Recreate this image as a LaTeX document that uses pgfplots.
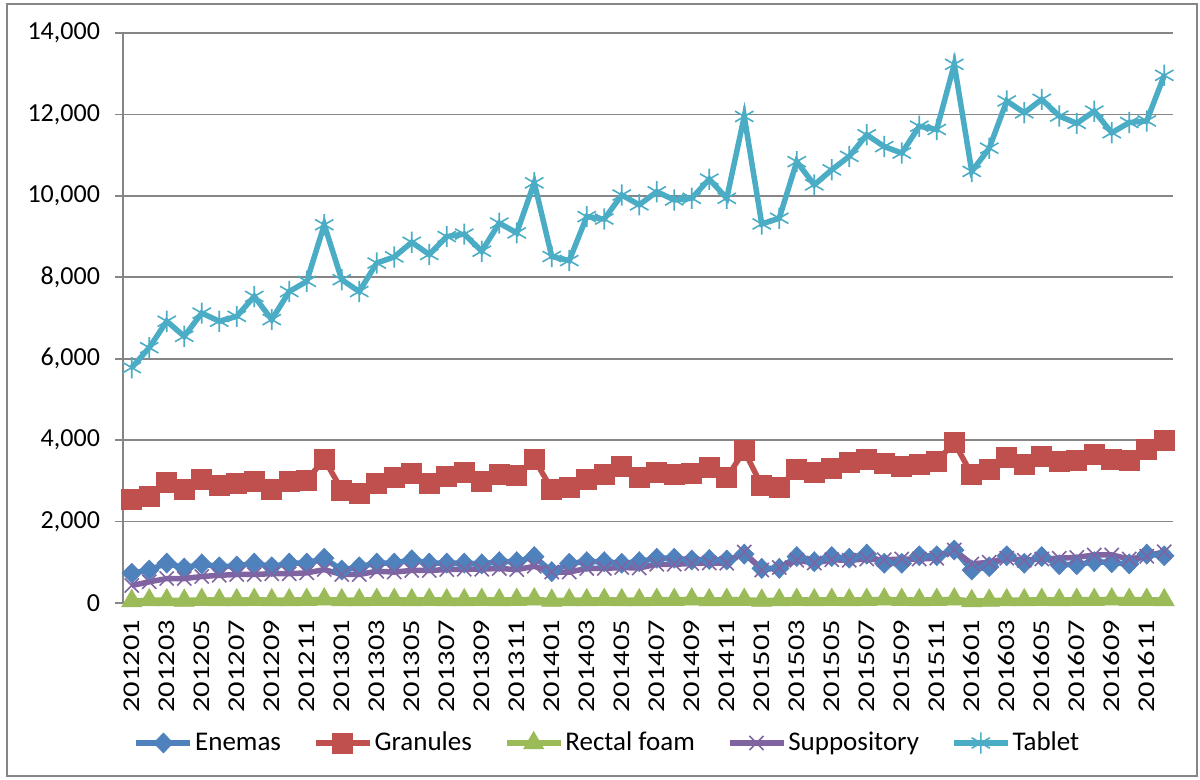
\documentclass[border=0pt]{standalone}
\usepackage{pgfplots}
\pgfplotsset{compat=1.18}
\usepackage{pgfplotstable}
\usepackage{fontspec}
\setmainfont{Carlito}
\definecolor{cE}{HTML}{4F81BD}
\definecolor{cG}{HTML}{C0504D}
\definecolor{cR}{HTML}{9BBB59}
\definecolor{cS}{HTML}{8064A2}
\definecolor{cT}{HTML}{4BACC6}
\definecolor{gridgray}{HTML}{868686}
\newcommand{\XL}[1]{\scalebox{1.27}[1]{#1}}
\pgfplotstableread{
i E G R S T
0 730 2550 50 430 5780
1 810 2630 70 520 6270
2 980 2960 70 600 6920
3 860 2800 60 600 6550
4 960 3050 80 650 7120
5 890 2880 70 680 6920
6 910 2940 70 700 7040
7 980 3000 80 700 7530
8 890 2800 70 720 6960
9 980 3000 70 720 7650
10 980 3020 80 740 7900
11 1100 3530 90 820 9290
12 810 2780 70 700 7940
13 890 2700 70 700 7650
14 980 2930 80 780 8350
15 980 3080 80 760 8500
16 1060 3190 70 800 8860
17 980 2930 80 800 8560
18 980 3120 70 820 9000
19 980 3200 70 830 9060
20 960 3000 80 830 8640
21 1015 3170 70 850 9330
22 1015 3130 80 820 9090
23 1140 3530 90 900 10320
24 770 2800 60 760 8510
25 975 2840 70 760 8410
26 1015 3050 70 850 9490
27 1015 3150 80 850 9430
28 975 3350 70 870 10020
29 1015 3080 70 860 9780
30 1100 3200 80 950 10100
31 1100 3150 80 950 9900
32 1057 3190 90 970 9940
33 1070 3340 70 980 10410
34 1057 3080 80 975 9940
35 1200 3740 80 1250 11950
36 850 2880 60 810 9310
37 850 2840 70 870 9450
38 1140 3290 80 1050 10840
39 1015 3200 70 980 10270
40 1140 3310 80 1060 10640
41 1100 3450 70 1050 10970
42 1200 3530 80 1080 11500
43 975 3430 90 1060 11210
44 975 3350 80 1080 11050
45 1160 3410 70 1080 11710
46 1160 3470 80 1100 11630
47 1300 3950 90 1300 13230
48 810 3150 50 960 10600
49 890 3290 60 1000 11170
50 1160 3570 70 1100 12330
51 975 3410 70 1050 12040
52 1140 3610 80 1080 12370
53 940 3470 70 1100 11960
54 940 3510 80 1120 11780
55 1015 3640 80 1180 12080
56 990 3530 90 1180 11550
57 960 3510 80 1080 11800
58 1200 3780 80 1150 11840
59 1160 3990 70 1260 12960
}\data
\begin{document}
\begin{tikzpicture}
\useasboundingbox (0pt,0pt) rectangle (600pt,390pt);
\draw[gridgray,line width=0.8pt] (3.5pt,2pt) rectangle (598.5pt,388pt);
\begin{axis}[
  at={(61.5pt,88.5pt)}, anchor=south west,
  width=525pt, height=285pt, scale only axis,
  xmin=-0.5, xmax=59.5, ymin=0, ymax=14000,
  axis lines*=left,
  axis line style={gridgray,line width=0.8pt},
  ytick={0,2000,...,14000},
  ymajorgrids, grid style={gridgray,line width=0.8pt},
  /pgf/number format/1000 sep={,},
  /pgf/number format/assume math mode=true,
  yticklabel style={font=\fontsize{13}{15}\selectfont, xshift=-4pt},
  scaled y ticks=false,
  ytick style={gridgray,line width=0.8pt},
  tick align=outside, major tick length=4pt,
  xtick={0,2,...,58},
  xticklabels={\XL{201201},\XL{201203},\XL{201205},\XL{201207},\XL{201209},\XL{201211},\XL{201301},\XL{201303},\XL{201305},\XL{201307},\XL{201309},\XL{201311},\XL{201401},\XL{201403},\XL{201405},\XL{201407},\XL{201409},\XL{201411},\XL{201501},\XL{201503},\XL{201505},\XL{201507},\XL{201509},\XL{201511},\XL{201601},\XL{201603},\XL{201605},\XL{201607},\XL{201609},\XL{201611}},
  xticklabel style={rotate=90, anchor=east, font=\fontsize{12}{14}\selectfont, xshift=-1pt},
  x tick style={draw=none},
  minor xtick={-0.5,0.5,...,59.5},
  minor x tick style={gridgray,line width=0.8pt},
  minor tick length=3pt,
  clip=false,
  legend columns=5,
  legend style={draw=none, fill=none, at={(0.4614,-0.2456)}, anchor=center,
    font=\fontsize{13.5}{15}\selectfont,
    /tikz/every even column/.append style={column sep=15pt},
    nodes={inner sep=1pt}},
  legend image code/.code={\draw[mark repeat=2,mark phase=2,#1] plot coordinates {(0pt,0pt) (13.5pt,0pt) (27pt,0pt)};},
  every axis plot/.append style={line width=2.75pt},
]
\addplot[cE, mark=diamond*, mark size=5pt, mark options={solid,fill=cE,draw=cE,line width=0.3pt,xscale=1.3}] table[x=i,y=E]{\data};
\addlegendentry{Enemas}
\addplot[cG, mark=square*, mark size=5pt, mark options={solid,fill=cG,draw=cG,line width=0.3pt}] table[x=i,y=G]{\data};
\addlegendentry{Granules}
\addplot[cR, mark=triangle*, mark size=5.8pt, mark options={solid,fill=cR,draw=cR,line width=0.3pt}] table[x=i,y=R]{\data};
\addlegendentry{Rectal foam}
\addplot[cS, mark=x, mark size=5pt, mark options={solid,draw=cS,line width=0.8pt}] table[x=i,y=S]{\data};
\addlegendentry{Suppository}
\addplot[cT, mark=asterisk, mark size=5.3pt, mark options={solid,draw=cT,line width=0.8pt}] table[x=i,y=T]{\data};
\addlegendentry{Tablet}
\end{axis}
\end{tikzpicture}
\end{document}
